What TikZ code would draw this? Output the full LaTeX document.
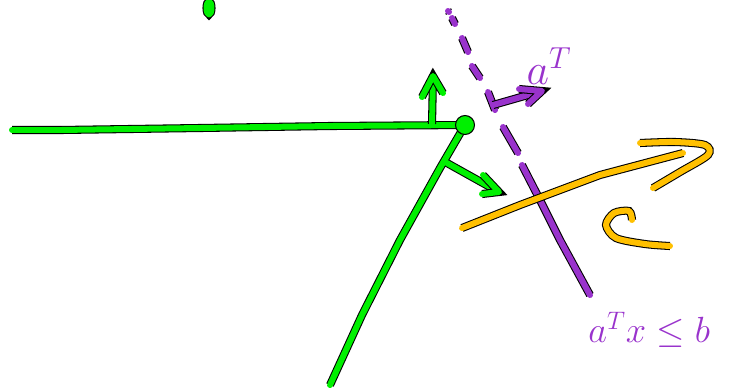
\documentclass[tikz,border=0pt]{standalone}
\usepackage{amsmath}
\usepackage{amssymb}
\definecolor{penGreen}{RGB}{0,240,0}
\definecolor{penPurple}{RGB}{153,51,204}
\definecolor{penOrange}{RGB}{255,192,0}
\tikzset{ink/.style={draw=#1, line width=3.4pt, line cap=round, line join=round,
  preaction={draw=black, line width=4.6pt}}}

\begin{document}
\begin{tikzpicture}[x=0.02cm,y=-0.02cm]
\useasboundingbox (0,0) rectangle (732,390);

% green cone
\coordinate (apex) at (465,125);
\coordinate (left) at (12,130);
\coordinate (bottom) at (330,385);
\draw[ink=penGreen] (209,8) ellipse (2.5 and 6.5);
\draw[ink=penGreen] (left) -- (60,130) -- (200,128) -- (330,126) -- (apex);
\draw[ink=penGreen] (apex) -- (440,168) -- (400,240) -- (362,315) -- (bottom);
\coordinate (up) at (433,76);
\draw[ink=penGreen] (432,124) -- (up);
\draw[ink=penGreen] (422,97) -- (up) -- (443,93);
\coordinate (down) at (499,192);
\draw[ink=penGreen] (447,163) -- (down);
\draw[ink=penGreen] (483,175) -- (down) -- (482,194);
\draw[fill=penGreen, draw=black, line width=0.6pt] (apex) circle (0.19cm);

% purple halfspace
\draw[ink=penPurple] (448,11) -- (449,12);
\foreach \xa/\ya/\xb/\yb in {452/18/455/24, 462/38/468/52, 472/66/480/78, 488/92/495/110, 503/127/518/153}
{
  \draw[ink=penPurple] (\xa,\ya) -- (\xb,\yb);
}
\draw[ink=penPurple] (522,165) -- (540,200) -- (560,240) -- (590,295);
\coordinate (normal) at (542,91);
\draw[ink=penPurple] (493,105) -- (normal);
\draw[ink=penPurple] (519,89) -- (normal) -- (528,104);
\node[text=penPurple, font=\fontsize{24}{24}\selectfont] (label-a) at (549,66) {$a^T$};
\node[text=penPurple, anchor=west, inner sep=0pt, font=\fontsize{21}{21}\selectfont] (constraint) at (588,330) {$a^Tx \leq b$};

% orange objective
\coordinate (tip) at (683,153);
\draw[ink=penOrange] (462,228) -- (520,205) -- (600,175) -- (tip);
\draw[ink=penOrange] plot[smooth] coordinates {(640,143) (675,142) (705,145) (708,155) (680,172) (653,188)};
\draw[ink=penOrange] plot[smooth] coordinates {(632,220) (629,211) (614,213) (606,225) (616,238) (645,244) (670,246)};
\end{tikzpicture}
\end{document}
